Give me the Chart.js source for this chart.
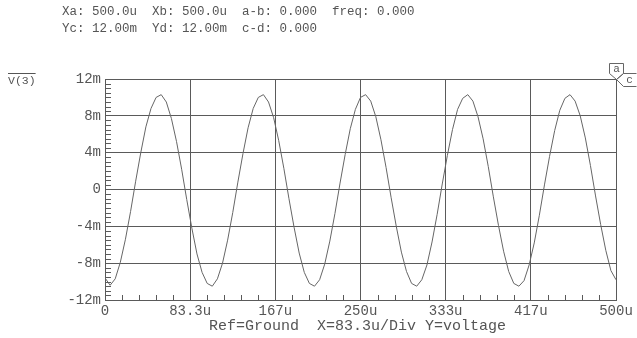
<!DOCTYPE html>
<html>
<head>
<meta charset="utf-8">
<script src="https://cdn.jsdelivr.net/npm/chart.js@4"></script>
<style>
  html, body { margin:0; padding:0; background:#fff; }
  #wrap { position:relative; width:637px; height:338px; overflow:hidden; }
  canvas { position:absolute; left:0; top:0; }
  .t { position:absolute; font-family:"Liberation Mono", monospace; color:#555; white-space:pre; }
</style>
</head>
<body>
<div id="wrap">
  <canvas id="c" width="637" height="338"></canvas>
  <div class="t" style="left:62px; top:4px; font-size:12.5px; line-height:17px;">Xa: 500.0u  Xb: 500.0u  a-b: 0.000  freq: 0.000
Yc: 12.00m  Yd: 12.00m  c-d: 0.000</div>
  <div class="t" style="left:8px; top:74px; font-size:11.5px; line-height:14px; text-decoration:overline;">V(3)</div>
  <div class="t" style="left:209px; top:318px; font-size:15px; line-height:18px;">Ref=Ground  X=83.3u/Div Y=voltage</div>
</div>
<script>
// ---- data ----
const times = [
  0,5,10,15,20,25,30,35,40,45,50,55,60,65,70,75,80,85,90,95,
  100,105,110,115,120,125,130,135,140,145,150,155,160,165,170,175,180,185,190,195,
  200,205,210,215,220,225,230,235,240,245,250,255,260,265,270,275,280,285,290,295,
  300,305,310,315,320,325,330,335,340,345,350,355,360,365,370,375,380,385,390,395,
  400,405,410,415,420,425,430,435,440,445,450,455,460,465,470,475,480,485,490,495,
  500
];
const voltage = [
  -9.6,-10.4,-9.7,-7.9,-5.4,-2.4,0.9,4.0,6.8,8.8,10.0,10.3,9.5,7.7,5.2,2.2,-1.1,-4.2,-7.0,-9.0,
  -10.2,-10.5,-9.7,-8.0,-5.5,-2.5,0.8,3.9,6.7,8.8,10.0,10.3,9.5,7.8,5.3,2.3,-1.0,-4.1,-6.9,-9.0,
  -10.2,-10.5,-9.8,-8.1,-5.6,-2.6,0.7,3.8,6.6,8.7,10.0,10.3,9.6,7.9,5.4,2.4,-0.9,-4.0,-6.8,-8.9,
  -10.2,-10.5,-9.8,-8.2,-5.7,-2.7,0.6,3.7,6.5,8.7,9.9,10.3,9.6,7.9,5.5,2.5,-0.8,-3.9,-6.7,-8.9,
  -10.2,-10.5,-9.9,-8.2,-5.8,-2.8,0.5,3.6,6.4,8.6,9.9,10.3,9.6,8.0,5.6,2.6,-0.7,-3.8,-6.6,-8.8,
  -9.8
];
const xTickValues = [0, 83.333, 166.667, 250, 333.333, 416.667, 500];
const xTickLabels = ['0', '83.3u', '167u', '250u', '333u', '417u', '500u'];
const yTickValues = [-12, -8, -4, 0, 4, 8, 12];
const yTickLabels = ['-12m', '-8m', '-4m', '0', '4m', '8m', '12m'];

const GRID = '#5a5a5a';
const TXT = '#555';

const minorTicks = {
  id: 'minorTicks',
  afterDraw(chart) {
    const ctx = chart.ctx, xs = chart.scales.x, ys = chart.scales.y;
    const a = chart.chartArea;
    ctx.save();
    ctx.strokeStyle = GRID;
    ctx.lineWidth = 1;
    ctx.beginPath();
    for (let i = 0; i < xTickValues.length - 1; i++) {
      const v0 = xTickValues[i], v1 = xTickValues[i + 1];
      for (let k = 1; k < 5; k++) {
        const px = Math.round(xs.getPixelForValue(v0 + (v1 - v0) * k / 5)) + 0.5;
        ctx.moveTo(px, a.bottom);
        ctx.lineTo(px, a.bottom - 5);
      }
    }
    for (let i = 0; i < yTickValues.length - 1; i++) {
      const v0 = yTickValues[i], v1 = yTickValues[i + 1];
      for (let k = 1; k < 8; k++) {
        const py = Math.round(ys.getPixelForValue(v0 + (v1 - v0) * k / 8)) + 0.5;
        ctx.moveTo(a.left, py);
        ctx.lineTo(a.left + 6, py);
      }
    }
    ctx.stroke();

    // cursor markers 'a' and 'c' at (500u, 12m)
    const cx = Math.round(xs.getPixelForValue(500)) + 0.5;
    const cy = Math.round(ys.getPixelForValue(12)) + 0.5;
    ctx.strokeStyle = '#666';
    ctx.beginPath();
    ctx.moveTo(cx, cy);
    ctx.lineTo(cx - 7, cy - 6);
    ctx.lineTo(cx - 7, cy - 16);
    ctx.lineTo(cx + 7, cy - 16);
    ctx.lineTo(cx + 7, cy - 6);
    ctx.closePath();
    ctx.moveTo(cx, cy);
    ctx.lineTo(cx + 7, cy - 6);
    ctx.lineTo(cx + 20, cy - 6);
    ctx.moveTo(cx, cy);
    ctx.lineTo(cx + 7, cy + 7);
    ctx.lineTo(cx + 20, cy + 7);
    ctx.stroke();
    ctx.fillStyle = TXT;
    ctx.font = '11px "Liberation Mono"';
    ctx.textAlign = 'center';
    ctx.textBaseline = 'middle';
    ctx.fillText('a', cx, cy - 10);
    ctx.fillText('c', cx + 13, cy + 1);
    ctx.restore();
  }
};

new Chart(document.getElementById('c'), {
  type: 'line',
  data: {
    datasets: [{
      data: times.map((t, i) => ({ x: t, y: voltage[i] })),
      borderColor: '#666',
      borderWidth: 1,
      pointRadius: 0,
      tension: 0,
      fill: false
    }]
  },
  options: {
    responsive: false,
    animation: false,
    devicePixelRatio: 1,
    layout: { padding: { left: 0, right: 21, top: 79, bottom: 0 } },
    plugins: { legend: { display: false }, tooltip: { enabled: false } },
    scales: {
      x: {
        type: 'linear', min: 0, max: 500,
        afterBuildTicks(s) { s.ticks = xTickValues.map(v => ({ value: v })); },
        afterFit(s) { s.height = 38; },
        ticks: {
          autoSkip: false, maxRotation: 0, padding: 3,
          color: TXT, font: { family: 'Liberation Mono', size: 14 },
          callback(v, i) { return xTickLabels[i]; }
        },
        grid: { color: GRID, lineWidth: 1, drawTicks: false },
        border: { color: GRID }
      },
      y: {
        type: 'linear', min: -12, max: 12,
        afterBuildTicks(s) { s.ticks = yTickValues.map(v => ({ value: v })); },
        afterFit(s) { s.width = 105; },
        ticks: {
          padding: 4, color: TXT, font: { family: 'Liberation Mono', size: 14 },
          callback(v, i) { return yTickLabels[i]; }
        },
        grid: { color: GRID, lineWidth: 1, drawTicks: false },
        border: { color: GRID }
      }
    }
  },
  plugins: [minorTicks]
});
</script>
</body>
</html>
